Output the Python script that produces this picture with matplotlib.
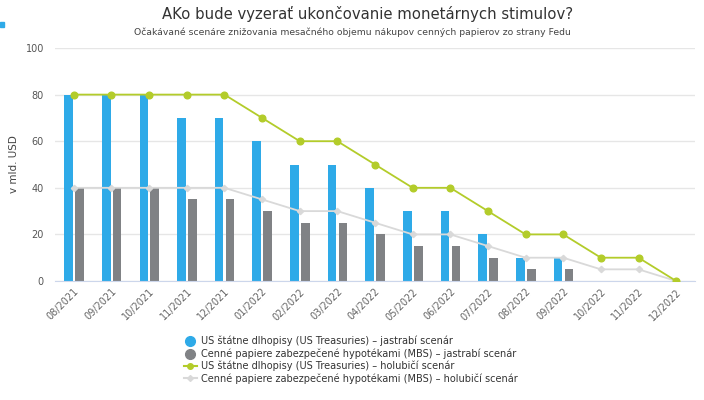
import matplotlib
matplotlib.use("Agg")
import matplotlib.pyplot as plt
from matplotlib.lines import Line2D
import numpy as np

months = ["08/2021", "09/2021", "10/2021", "11/2021", "12/2021", "01/2022", "02/2022",
          "03/2022", "04/2022", "05/2022", "06/2022", "07/2022", "08/2022", "09/2022",
          "10/2022", "11/2022", "12/2022"]
hawk_treas = [80, 80, 80, 70, 70, 60, 50, 50, 40, 30, 30, 20, 10, 10, 0, 0, 0]
hawk_mbs = [40, 40, 40, 35, 35, 30, 25, 25, 20, 15, 15, 10, 5, 5, 0, 0, 0]
dove_treas = [80, 80, 80, 80, 80, 70, 60, 60, 50, 40, 40, 30, 20, 20, 10, 10, 0]
dove_mbs = [40, 40, 40, 40, 40, 35, 30, 30, 25, 20, 20, 15, 10, 10, 5, 5, 0]

labels = ["US štátne dlhopisy (US Treasuries) – jastrabí scenár",
          "Cenné papiere zabezpečené hypotékami (MBS) – jastrabí scenár",
          "US štátne dlhopisy (US Treasuries) – holubičí scenár",
          "Cenné papiere zabezpečené hypotékami (MBS) – holubičí scenár"]

c_blue = "#2eaae8"
c_gray = "#808285"
c_green = "#b3cc2a"
c_light = "#d9d9d9"

plt.rcParams['font.family'] = ['DejaVu Sans']
fig = plt.figure(figsize=(7.04, 4.0), dpi=100)
W, H = 704, 400
ax = fig.add_axes([55 / W, 1 - 281 / H, 640 / W, 233 / H])

x = np.arange(len(months))
bw = 0.23
ax.bar(x - 0.14, hawk_treas, width=bw, color=c_blue, zorder=2)
ax.bar(x + 0.15, hawk_mbs, width=bw, color=c_gray, zorder=2)
ax.plot(x, dove_treas, color=c_green, lw=1.3, marker='o', ms=4.8, zorder=4)
ax.plot(x, dove_mbs, color=c_light, lw=1.3, marker='D', ms=3.2, zorder=3)

ax.set_xlim(-0.5, len(months) - 0.5)
ax.set_ylim(0, 100)
ax.set_yticks([0, 20, 40, 60, 80, 100])
ax.yaxis.grid(True, color="#e6e6e6", lw=1)
ax.set_axisbelow(True)
for s in ["top", "right", "left"]:
    ax.spines[s].set_visible(False)
ax.spines["bottom"].set_color("#ccd6eb")
ax.tick_params(axis='y', length=0, labelsize=7, labelcolor="#555555", pad=8)
ax.tick_params(axis='x', length=0, labelsize=7, labelcolor="#666666", pad=4)
ax.set_xticks(x)
ax.set_xticklabels(months, rotation=45, ha='right', rotation_mode='anchor')
ax.set_ylabel("v mld. USD", fontsize=7.5, color="#444444", labelpad=5)

fig.text(0.5 * (163 + 573) / W, 1 - 14 / H, "AKo bude vyzerať ukončovanie monetárnych stimulov?",
         ha='center', va='center', fontsize=10.7, color="#333333")
fig.text(0.5 * (134 + 570) / W, 1 - 32 / H,
         "Očakávané scenáre znižovania mesačného objemu nákupov cenných papierov zo strany Fedu",
         ha='center', va='center', fontsize=6.65, color="#444444")
fig.patches.append(plt.Rectangle((0, 1 - 27 / H), 4 / W, 5 / H, transform=fig.transFigure,
                                 color=c_blue, figure=fig))

handles = [
    Line2D([], [], color=c_blue, marker='o', ls='none', ms=7),
    Line2D([], [], color=c_gray, marker='o', ls='none', ms=7),
    Line2D([], [], color=c_green, marker='o', lw=1.5, ms=4),
    Line2D([], [], color=c_light, marker='D', lw=1.5, ms=3),
]
fig.legend(handles, labels, loc='upper left', bbox_to_anchor=(184 / W, 1 - 336 / H),
           frameon=False, fontsize=7, labelspacing=0.2, handlelength=1.3,
           handletextpad=0.4, borderaxespad=0, borderpad=0, labelcolor="#333333")

fig.savefig("out.png", dpi=100)
